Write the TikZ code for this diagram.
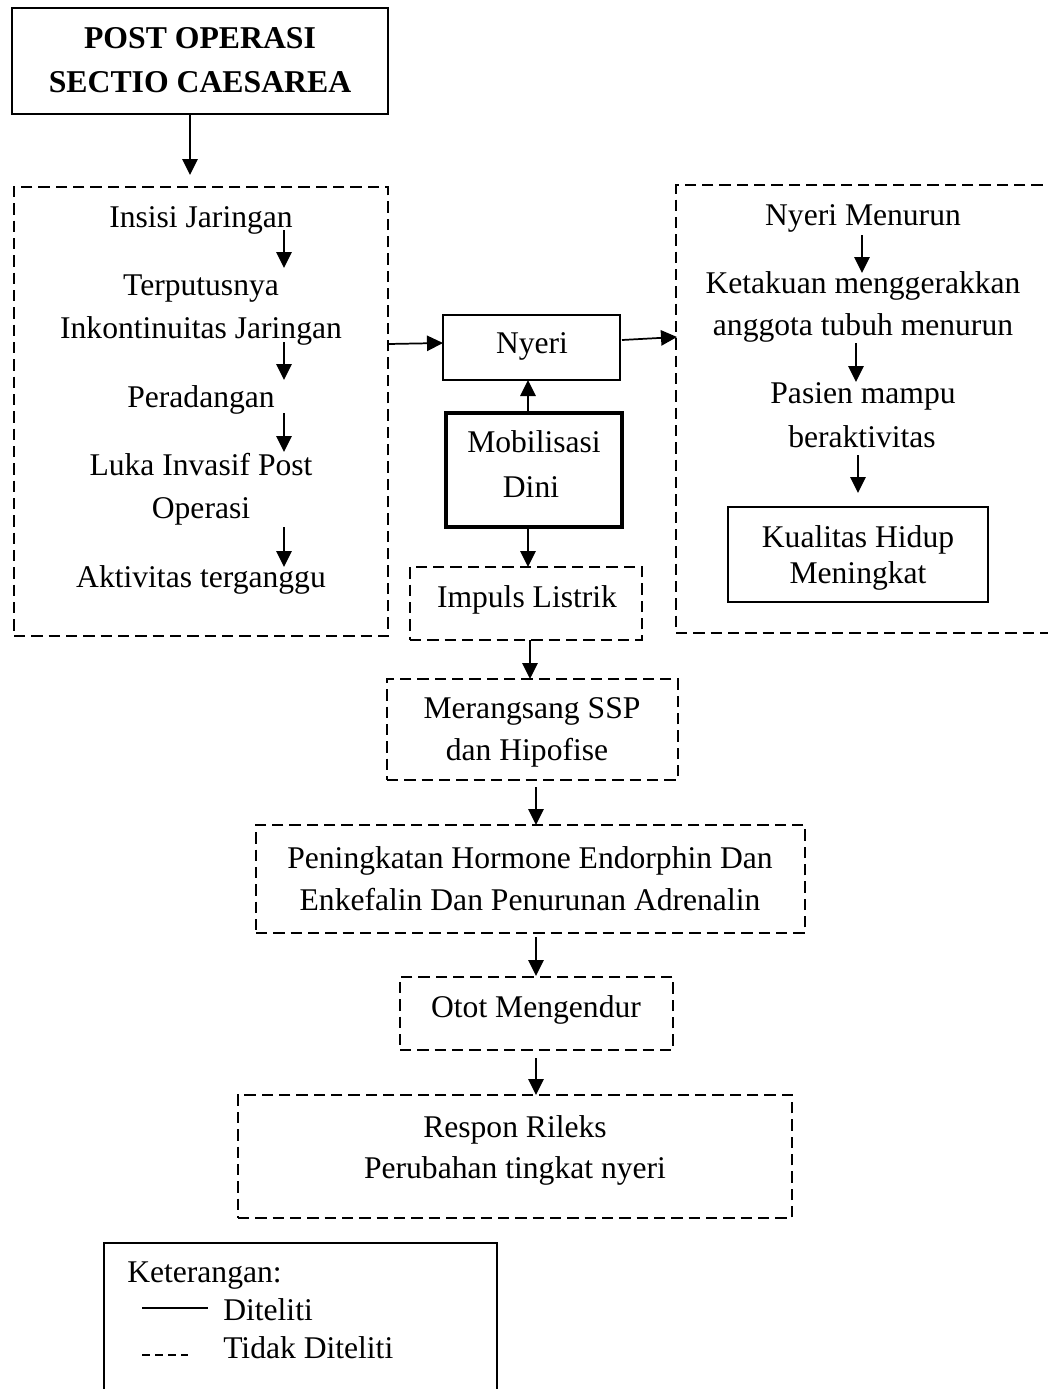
\documentclass[tikz,border=0pt]{standalone}
\usepackage{fontspec}
\setmainfont{Liberation Serif}
\usetikzlibrary{arrows.meta}
\begin{document}
\begin{tikzpicture}[x=0.75pt,y=-0.75pt,
  txt/.style={font=\fontsize{23.7}{28}\selectfont, inner sep=0pt, anchor=base},
  sbox/.style={draw, line width=1pt, inner sep=0pt},
  thickbox/.style={draw, line width=2.3pt, inner sep=0pt},
  dbox/.style={draw, line width=2pt, dash pattern=on 8.5pt off 4.5pt, inner sep=0pt},
  dline/.style={line width=2pt, dash pattern=on 8.5pt off 4.5pt},
  arr/.style={line width=1.3pt, -{Triangle[length=12pt,width=11.5pt]}}]
\useasboundingbox (0,0) rectangle (1048,1389);

% ---- boxes
\node[sbox, minimum width=282pt, minimum height=79.5pt] (top) at (200,61) {};
\node[txt, font=\fontsize{23.8}{28}\selectfont\bfseries] (top1) at (200,48) {POST OPERASI};
\node[txt, font=\fontsize{23.8}{28}\selectfont\bfseries] (top2) at (200,92) {SECTIO CAESAREA};

\node[dbox, minimum width=280.5pt, minimum height=336.75pt] (left) at (201,411.5) {};
\node[sbox, minimum width=132.75pt, minimum height=48.75pt] (nyeri) at (531.5,347.5) {};
\node[thickbox, minimum width=132pt, minimum height=85.5pt] (mobil) at (534,470) {};
\node[dbox, minimum width=174pt, minimum height=54.75pt] (impuls) at (526,603.5) {};
\node[dbox, minimum width=218.25pt, minimum height=75.75pt] (merang) at (532.5,729.5) {};
\node[dbox, minimum width=411.75pt, minimum height=81pt] (pening) at (530.5,879) {};
\node[dbox, minimum width=204.75pt, minimum height=54.75pt] (otot) at (536.5,1013.5) {};
\node[dbox, minimum width=415.5pt, minimum height=92.25pt] (respon) at (515,1156.5) {};
\node[sbox, minimum width=195pt, minimum height=71.25pt] (kual) at (858,554.5) {};

% right dashed box (cut at the right edge)
\coordinate (rtl) at (676,185);
\coordinate (rbl) at (676,633);
\draw[dline] (1060,185) -- (rtl) -- (rbl) -- (1060,633);

% legend box (cut at the bottom)
\coordinate (lgtl) at (104,1243);
\coordinate (lgtr) at (497,1243);
\draw[line width=1pt] (104,1400) -- (lgtl) -- (lgtr) -- (497,1400);

% ---- left texts
\node[txt] (l1) at (201,227) {Insisi Jaringan};
\node[txt] (l2) at (201,295) {Terputusnya};
\node[txt] (l3) at (201,338) {Inkontinuitas Jaringan};
\node[txt] (l4) at (201,407) {Peradangan};
\node[txt] (l5) at (201,475) {Luka Invasif Post};
\node[txt] (l6) at (201,518) {Operasi};
\node[txt] (l7) at (201,587) {Aktivitas terganggu};

% ---- centre texts
\node[txt] (n1) at (532,353) {Nyeri};
\node[txt] (m1) at (534,452) {Mobilisasi};
\node[txt] (m2) at (531,497) {Dini};
\node[txt] (i1) at (527,607) {Impuls Listrik};
\node[txt] (s1) at (532,718) {Merangsang SSP};
\node[txt] (s2) at (527,760) {dan Hipofise};
\node[txt] (p1) at (530,868) {Peningkatan Hormone Endorphin Dan};
\node[txt] (p2) at (530,910) {Enkefalin Dan Penurunan Adrenalin};
\node[txt] (o1) at (536,1017) {Otot Mengendur};
\node[txt] (r1) at (515,1137) {Respon Rileks};
\node[txt] (r2) at (515,1178) {Perubahan tingkat nyeri};

% ---- right texts
\node[txt] (q1) at (863,225) {Nyeri Menurun};
\node[txt] (q2) at (863,293) {Ketakuan menggerakkan};
\node[txt] (q3) at (863,335) {anggota tubuh menurun};
\node[txt] (q4) at (863,403) {Pasien mampu};
\node[txt] (q5) at (862,447) {beraktivitas};
\node[txt] (k1) at (858,547) {Kualitas Hidup};
\node[txt] (k2) at (858,583) {Meningkat};

% ---- legend
\node[txt, anchor=base west] (lg1) at (127,1282) {Keterangan:};
\node[txt, anchor=base west] (lg2) at (223,1320) {Diteliti};
\node[txt, anchor=base west] (lg3) at (223,1358) {Tidak Diteliti};
\coordinate (sa) at (142,1308); \coordinate (sb) at (208,1308);
\coordinate (da) at (142,1355); \coordinate (db) at (188,1355);
\draw[line width=1.4pt] (sa) -- (sb);
\draw[line width=2pt, dash pattern=on 6pt off 3.75pt] (da) -- (db);

% ---- arrow end points
\coordinate (a0s) at (190,114);  \coordinate (a0e) at (190,175);
\coordinate (a1s) at (284,230);  \coordinate (a1e) at (284,268);
\coordinate (a2s) at (284,342);  \coordinate (a2e) at (284,380);
\coordinate (a3s) at (284,413);  \coordinate (a3e) at (284,452);
\coordinate (a4s) at (284,527);  \coordinate (a4e) at (284,567);
\coordinate (b1s) at (388,344);  \coordinate (b1e) at (443,343);
\coordinate (b2s) at (622,340);  \coordinate (b2e) at (677,337);
\coordinate (c1s) at (528,413);  \coordinate (c1e) at (528,380);
\coordinate (c2s) at (528,527);  \coordinate (c2e) at (528,567);
\coordinate (c3s) at (530,640);  \coordinate (c3e) at (530,679);
\coordinate (c4s) at (536,787);  \coordinate (c4e) at (536,825);
\coordinate (c5s) at (536,937);  \coordinate (c5e) at (536,976);
\coordinate (c6s) at (536,1058); \coordinate (c6e) at (536,1095);
\coordinate (d1s) at (862,235);  \coordinate (d1e) at (862,273);
\coordinate (d2s) at (856,343);  \coordinate (d2e) at (856,382);
\coordinate (d3s) at (858,455);  \coordinate (d3e) at (858,493);

\draw[arr] (a0s) -- (a0e);
\draw[arr] (a1s) -- (a1e);
\draw[arr] (a2s) -- (a2e);
\draw[arr] (a3s) -- (a3e);
\draw[arr] (a4s) -- (a4e);
\draw[arr] (b1s) -- (b1e);
\draw[arr] (b2s) -- (b2e);
\draw[arr] (c1s) -- (c1e);
\draw[arr] (c2s) -- (c2e);
\draw[arr] (c3s) -- (c3e);
\draw[arr] (c4s) -- (c4e);
\draw[arr] (c5s) -- (c5e);
\draw[arr] (c6s) -- (c6e);
\draw[arr] (d1s) -- (d1e);
\draw[arr] (d2s) -- (d2e);
\draw[arr] (d3s) -- (d3e);
\end{tikzpicture}
\end{document}
